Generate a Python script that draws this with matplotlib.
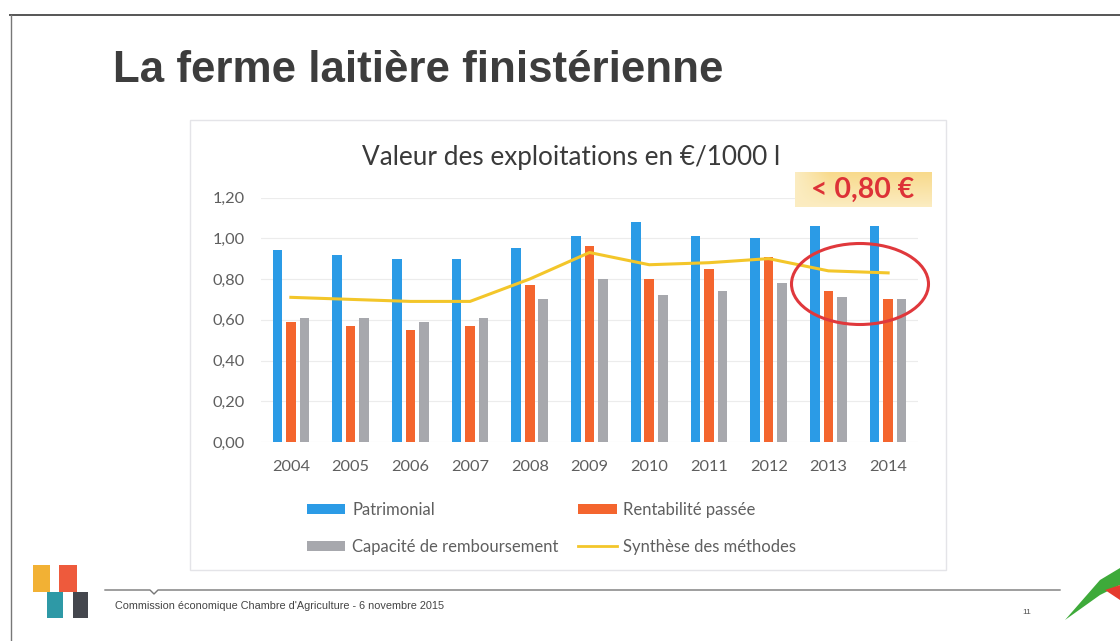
import numpy as np
import matplotlib
matplotlib.use("Agg")
import matplotlib.pyplot as plt
from matplotlib.patches import Patch, Rectangle, Ellipse, Polygon
from matplotlib.lines import Line2D

# ==========================================================
# DATA
# ==========================================================

years = ["2004", "2005", "2006", "2007", "2008", "2009",
         "2010", "2011", "2012", "2013", "2014"]
patrimonial = [0.94, 0.92, 0.90, 0.90, 0.95, 1.01, 1.08, 1.01, 1.00, 1.06, 1.06]
rentabilite = [0.59, 0.57, 0.55, 0.57, 0.77, 0.96, 0.80, 0.85, 0.91, 0.74, 0.70]
capacite = [0.61, 0.61, 0.59, 0.61, 0.70, 0.80, 0.72, 0.74, 0.78, 0.71, 0.70]
synthese = [0.71, 0.70, 0.69, 0.69, 0.80, 0.93, 0.87, 0.88, 0.90, 0.84, 0.83]
y_ticks = [0.0, 0.2, 0.4, 0.6, 0.8, 1.0, 1.2]

series_labels = ["Patrimonial", "Rentabilité passée",
                 "Capacité de remboursement", "Synthèse des méthodes"]

C_BLUE = "#2b9be6"
C_ORANGE = "#f4652e"
C_GRAY = "#a7a8ad"
C_YELLOW = "#f3c62a"
C_TEXT = "#5f5f5f"

W, H = 1120, 641


def fx(px):
    return px / W


def fy(py):
    return 1 - py / H


# ==========================================================
# FIGURE / SLIDE FRAME
# ==========================================================

fig = plt.figure(figsize=(11.2, 6.41), dpi=100)
fig.patch.set_facecolor("white")

# slide border lines
fig.add_artist(Line2D([fx(10), 1], [fy(15), fy(15)], color="#555555", lw=1.4))
fig.add_artist(Line2D([fx(11), fx(11)], [fy(15), 0], color="#777777", lw=1.0))

fig.text(fx(113), fy(70), "La ferme laitière finistérienne",
         family="Liberation Sans", fontweight="bold", fontsize=31.6,
         color="#3d3d3d", va="center", ha="left")

# chart box
fig.add_artist(Rectangle((fx(190), fy(570)), fx(946) - fx(190), fy(120) - fy(570),
                         transform=fig.transFigure, fill=False,
                         edgecolor="#e4e4e8", lw=1.0))

fig.text(fx(571), fy(158), "Valeur des exploitations en €/1000 l",
         family="Lato", fontsize=18.8, color="#3a3a3a", ha="center", va="center")

# ==========================================================
# BAR CHART
# ==========================================================

ax = fig.add_axes([fx(261), fy(442), fx(918) - fx(261), fy(197.5) - fy(442)])
x = np.arange(len(years))
bw = 0.16
off = 0.226

ax.bar(x - off, patrimonial, bw, color=C_BLUE, zorder=2)
ax.bar(x, rentabilite, bw, color=C_ORANGE, zorder=2)
ax.bar(x + off, capacite, bw, color=C_GRAY, zorder=2)
ax.plot(x, synthese, color=C_YELLOW, lw=2.2, zorder=3)

ax.set_xlim(-0.5, len(years) - 0.5)
ax.set_ylim(0, 1.2)
ax.set_yticks(y_ticks)
ax.set_yticklabels([f"{v:.2f}".replace(".", ",") for v in y_ticks])
ax.set_xticks(x)
ax.set_xticklabels(years)
ax.tick_params(length=0, labelsize=11.8, labelcolor=C_TEXT)
ax.tick_params(axis="y", pad=11.5)
ax.tick_params(axis="x", pad=13)
for lab in ax.get_xticklabels() + ax.get_yticklabels():
    lab.set_family("Lato")
ax.grid(axis="y", color="#ececec", lw=0.8, zorder=0)
for s in ax.spines.values():
    s.set_visible(False)
ax.set_facecolor("none")

# red circle on 2013-2014
fig.add_artist(Ellipse((fx(860), fy(284)), fx(137), 81 / H,
                       transform=fig.transFigure, fill=False,
                       edgecolor="#e0383c", lw=2.2))

# highlight box "< 0,80 €"
bax = fig.add_axes([fx(795), fy(207), fx(137), 35 / H])
gy = np.linspace(0, 1, 40)[:, None]
gx = np.linspace(0, 1, 80)[None, :]
grad = 0.35 + 0.65 * (1 - gy) * np.clip(gx * 4, 0, 1)
top = np.array([248, 218, 140]) / 255
bot = np.array([253, 246, 222]) / 255
img = bot[None, None, :] + (top - bot)[None, None, :] * grad[:, :, None]
bax.imshow(img, aspect="auto", extent=(0, 1, 0, 1))
bax.set_axis_off()
fig.text(fx(863), fy(190), "< 0,80 €", family="Lato", fontweight="bold",
         fontsize=20.5, color="#dd3237", ha="center", va="center")

# ==========================================================
# LEGEND
# ==========================================================

handles = [
    Patch(facecolor=C_BLUE, label=series_labels[0]),
    Patch(facecolor=C_GRAY, label=series_labels[2]),
    Patch(facecolor=C_ORANGE, label=series_labels[1]),
    Line2D([0], [0], color=C_YELLOW, lw=2, label=series_labels[3]),
]
leg = fig.legend(handles=handles, ncol=2, loc="upper left",
                 bbox_to_anchor=(fx(307), fy(502)), frameon=False,
                 borderpad=0, borderaxespad=0, handlelength=2.3,
                 handleheight=0.6, handletextpad=0.4, columnspacing=1.2,
                 labelspacing=1.25, prop={"family": "Lato", "size": 12})
for t in leg.get_texts():
    t.set_color(C_TEXT)

# ==========================================================
# FOOTER
# ==========================================================

fig.add_artist(Line2D([fx(105), fx(150), fx(154), fx(158), fx(1060)],
                      [fy(590), fy(590), fy(594), fy(590), fy(590)],
                      color="#777777", lw=1.0))
fig.text(fx(115), fy(606), "Commission économique Chambre d'Agriculture - 6 novembre 2015",
         family="Liberation Sans", fontsize=7.8, color="#444444", va="center")
fig.text(fx(1027), fy(612), "11", family="Liberation Sans", fontsize=6,
         color="#555555", va="center", ha="center")

# left logo blocks
for (x0, y0, x1, y1, c) in [(33, 565, 50, 592, "#f2b134"), (59, 565, 77, 592, "#ee5a3c"),
                            (47, 592, 63, 618, "#2e99a6"), (73, 592, 88, 618, "#44464d")]:
    fig.add_artist(Rectangle((fx(x0), fy(y1)), fx(x1 - x0), (y1 - y0) / H,
                             transform=fig.transFigure, color=c, lw=0))

# right logo (green swoosh)
fig.add_artist(Polygon([(fx(1065), fy(620)), (fx(1100), fy(580)), (fx(1120), fy(568)),
                        (fx(1120), fy(585)), (fx(1100), fy(595))],
                       closed=True, transform=fig.transFigure,
                       facecolor="#3eaa3a", lw=0))
fig.add_artist(Polygon([(fx(1105), fy(590)), (fx(1120), fy(585)), (fx(1120), fy(600))],
                       closed=True, transform=fig.transFigure,
                       facecolor="#e53c2e", lw=0))

fig.savefig("out.png", dpi=100)
